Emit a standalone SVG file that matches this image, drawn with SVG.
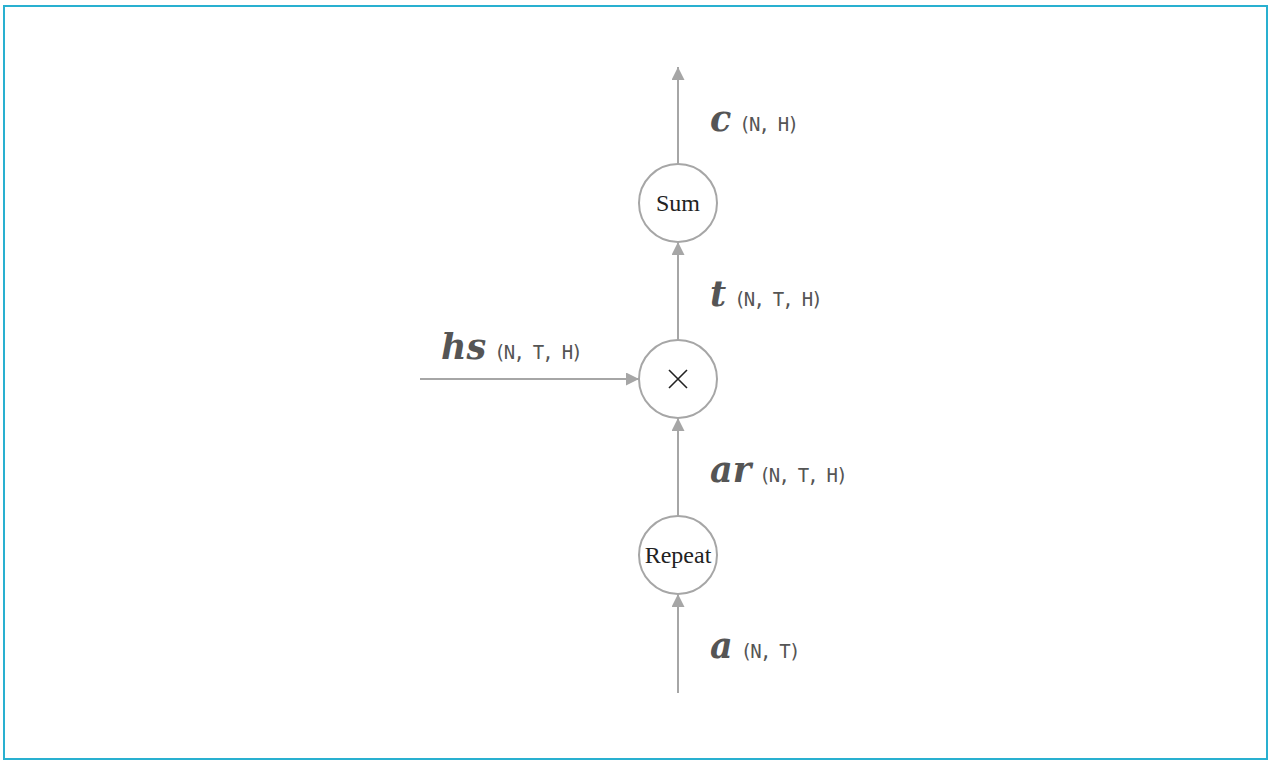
<svg xmlns="http://www.w3.org/2000/svg" width="1271" height="763" viewBox="0 0 1271 763">
<style>
.node{fill:#fff;stroke:#a6a6a6;stroke-width:2}
.edge{stroke:#a6a6a6;stroke-width:2;fill:none}
.nl{font-family:"Liberation Serif","DejaVu Serif",serif;font-size:24px;fill:#222;text-anchor:middle}
.v{font-family:"DejaVu Serif","Liberation Serif",serif;font-size:35px;font-weight:bold;font-style:italic;fill:#555}
.s{font-family:"DejaVu Sans Mono","Liberation Mono",monospace;font-size:19px;letter-spacing:-1.8px;fill:#555}
</style>
<defs>
<marker id="ah" viewBox="0 0 12 12" refX="12" refY="6" markerWidth="13" markerHeight="13" markerUnits="userSpaceOnUse" orient="auto">
<path d="M0,0 L12,6 L0,12 z" fill="#a6a6a6"/>
</marker>
</defs>
<rect x="4" y="6" width="1263" height="753" fill="#fff" stroke="#29b0d0" stroke-width="2"/>
<g id="connectors">
<line class="edge" x1="678" y1="164" x2="678" y2="67" marker-end="url(#ah)"/>
<line class="edge" x1="678" y1="340" x2="678" y2="242" marker-end="url(#ah)"/>
<line class="edge" x1="678" y1="516" x2="678" y2="418" marker-end="url(#ah)"/>
<line class="edge" x1="678" y1="693" x2="678" y2="594" marker-end="url(#ah)"/>
<line class="edge" x1="420" y1="379" x2="639" y2="379" marker-end="url(#ah)"/>
</g>
<g id="sum">
<circle class="node" cx="678" cy="203" r="39"/>
<text class="nl" x="678" y="211">Sum</text>
</g>
<g id="mul">
<circle class="node" cx="678" cy="379" r="39"/>
<path d="M669,370 L687,388 M687,370 L669,388" stroke="#222" stroke-width="1.6"/>
</g>
<g id="repeat">
<circle class="node" cx="678" cy="555" r="39"/>
<text class="nl" x="678" y="563">Repeat</text>
</g>
<g id="labels">
<text x="710" y="131"><tspan class="v">c</tspan><tspan class="s" dx="8">(N, H)</tspan></text>
<text x="710" y="306"><tspan class="v">t</tspan><tspan class="s" dx="8">(N, T, H)</tspan></text>
<text x="441" y="359"><tspan class="v">hs</tspan><tspan class="s" dx="8">(N, T, H)</tspan></text>
<text x="710" y="482"><tspan class="v">ar</tspan><tspan class="s" dx="8">(N, T, H)</tspan></text>
<text x="710" y="658"><tspan class="v">a</tspan><tspan class="s" dx="8">(N, T)</tspan></text>
</g>
</svg>
